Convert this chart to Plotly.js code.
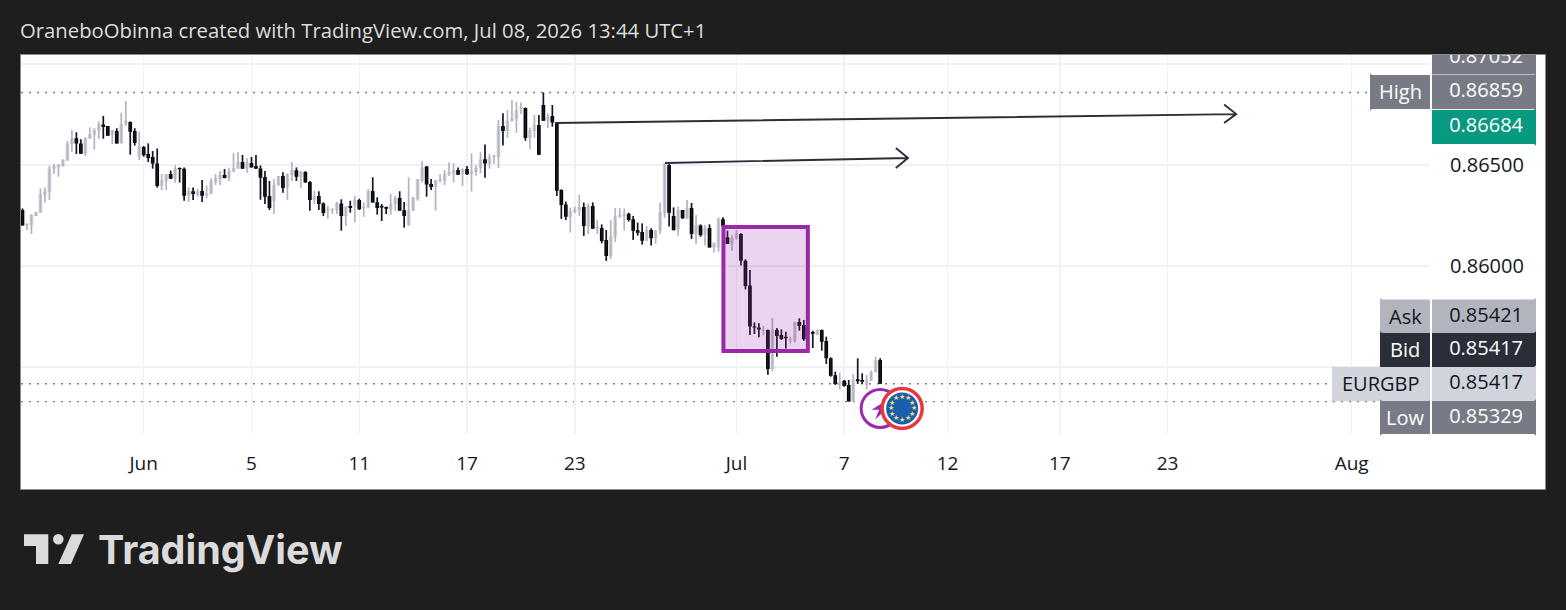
<!DOCTYPE html>
<html>
<head>
<meta charset="utf-8">
<script src="https://cdn.plot.ly/plotly-3.0.1.min.js"></script>
<style>html,body{margin:0;padding:0;background:#1e1e1e;overflow:hidden}#chart{width:1566px;height:610px}</style>
</head>
<body>
<div id="chart"></div>
<script>
const opens = [
0.86277,0.86203,0.86203,0.86248,0.86264,0.86351,0.86365,0.86482,0.86488,0.86492,
0.86521,0.86604,0.86632,0.86607,0.86554,0.86630,0.86650,0.86670,0.86701,0.86693,
0.86649,0.86668,0.86607,0.86706,0.86713,0.86668,0.86540,0.86589,0.86554,0.86540,
0.86508,0.86396,0.86421,0.86455,0.86431,0.86485,0.86482,0.86348,0.86370,0.86351,
0.86371,0.86348,0.86356,0.86414,0.86431,0.86450,0.86437,0.86465,0.86482,0.86515,
0.86482,0.86510,0.86495,0.86483,0.86441,0.86347,0.86323,0.86398,0.86446,0.86388,
0.86449,0.86474,0.86441,0.86465,0.86416,0.86325,0.86347,0.86310,0.86274,0.86277,
0.86276,0.86310,0.86248,0.86297,0.86294,0.86327,0.86287,0.86289,0.86371,0.86315,
0.86297,0.86292,0.86277,0.86307,0.86337,0.86276,0.86200,0.86274,0.86330,0.86422,
0.86492,0.86406,0.86391,0.86422,0.86422,0.86455,0.86452,0.86475,0.86454,0.86480,
0.86455,0.86465,0.86485,0.86528,0.86505,0.86540,0.86540,0.86693,0.86668,0.86716,
0.86728,0.86776,0.86782,0.86634,0.86668,0.86698,0.86797,0.86719,0.86743,0.86706,
0.86376,0.86305,0.86243,0.86267,0.86277,0.86292,0.86198,0.86297,0.86185,0.86188,
0.86129,0.86050,0.86144,0.86244,0.86248,0.86259,0.86231,0.86177,0.86168,0.86125,
0.86178,0.86137,0.86175,0.86261,0.86500,0.86248,0.86183,0.86277,0.86233,0.86287,
0.86158,0.86201,0.86152,0.86188,0.86091,0.86092,0.86231,0.86142,0.86112,0.86132,
0.86158,0.86026,0.85904,0.85701,0.85696,0.85677,0.85683,0.85490,0.85683,0.85658,
0.85650,0.85630,0.85630,0.85723,0.85708,0.85660,0.85673,0.85658,0.85683,0.85629,
0.85543,0.85459,0.85416,0.85432,0.85411,0.85329,0.85439,0.85436,0.85411,0.85432,
0.85474,0.85535];
const highs = [
0.86285,0.86211,0.86256,0.86269,0.86384,0.86389,0.86495,0.86505,0.86505,0.86528,
0.86620,0.86673,0.86662,0.86627,0.86637,0.86686,0.86682,0.86716,0.86743,0.86693,
0.86673,0.86682,0.86759,0.86817,0.86716,0.86682,0.86665,0.86594,0.86607,0.86569,
0.86582,0.86455,0.86455,0.86472,0.86500,0.86488,0.86488,0.86389,0.86389,0.86381,
0.86426,0.86399,0.86434,0.86455,0.86472,0.86480,0.86488,0.86559,0.86564,0.86550,
0.86533,0.86540,0.86550,0.86498,0.86470,0.86421,0.86431,0.86446,0.86464,0.86459,
0.86515,0.86488,0.86472,0.86470,0.86421,0.86373,0.86370,0.86315,0.86297,0.86285,
0.86318,0.86330,0.86297,0.86323,0.86347,0.86333,0.86315,0.86380,0.86439,0.86340,
0.86307,0.86294,0.86356,0.86347,0.86370,0.86317,0.86439,0.86343,0.86431,0.86520,
0.86495,0.86431,0.86426,0.86454,0.86475,0.86513,0.86508,0.86488,0.86483,0.86495,
0.86558,0.86500,0.86563,0.86602,0.86554,0.86550,0.86723,0.86756,0.86772,0.86822,
0.86812,0.86810,0.86785,0.86686,0.86748,0.86748,0.86859,0.86756,0.86797,0.86710,
0.86380,0.86319,0.86289,0.86294,0.86352,0.86314,0.86310,0.86315,0.86228,0.86206,
0.86178,0.86228,0.86287,0.86287,0.86284,0.86264,0.86248,0.86215,0.86211,0.86198,
0.86187,0.86178,0.86314,0.86508,0.86505,0.86290,0.86294,0.86277,0.86327,0.86312,
0.86253,0.86206,0.86203,0.86206,0.86116,0.86241,0.86241,0.86175,0.86153,0.86178,
0.86162,0.86033,0.85980,0.85721,0.85716,0.85703,0.85686,0.85741,0.85693,0.85686,
0.85675,0.85650,0.85724,0.85741,0.85733,0.85680,0.85680,0.85686,0.85686,0.85650,
0.85548,0.85477,0.85472,0.85436,0.85436,0.85464,0.85543,0.85469,0.85460,0.85482,
0.85551,0.85543];
const lows = [
0.86200,0.86178,0.86158,0.86248,0.86264,0.86314,0.86327,0.86455,0.86442,0.86492,
0.86521,0.86566,0.86554,0.86556,0.86545,0.86630,0.86576,0.86630,0.86630,0.86645,
0.86604,0.86606,0.86607,0.86693,0.86551,0.86596,0.86525,0.86541,0.86515,0.86482,
0.86388,0.86376,0.86376,0.86432,0.86413,0.86413,0.86323,0.86317,0.86327,0.86343,
0.86317,0.86335,0.86356,0.86401,0.86401,0.86434,0.86421,0.86465,0.86482,0.86482,
0.86462,0.86488,0.86482,0.86328,0.86307,0.86277,0.86257,0.86398,0.86363,0.86327,
0.86421,0.86421,0.86386,0.86413,0.86274,0.86307,0.86277,0.86248,0.86234,0.86257,
0.86257,0.86175,0.86198,0.86264,0.86215,0.86277,0.86244,0.86285,0.86314,0.86254,
0.86223,0.86257,0.86254,0.86274,0.86274,0.86190,0.86200,0.86274,0.86323,0.86413,
0.86343,0.86376,0.86274,0.86413,0.86401,0.86446,0.86413,0.86450,0.86396,0.86450,
0.86368,0.86447,0.86459,0.86437,0.86482,0.86505,0.86485,0.86596,0.86635,0.86716,
0.86660,0.86752,0.86620,0.86578,0.86635,0.86551,0.86719,0.86683,0.86690,0.86347,
0.86233,0.86228,0.86165,0.86261,0.86248,0.86149,0.86158,0.86185,0.86158,0.86112,
0.86025,0.86035,0.86119,0.86238,0.86175,0.86220,0.86129,0.86150,0.86106,0.86125,
0.86101,0.86109,0.86158,0.86239,0.86195,0.86177,0.86150,0.86233,0.86233,0.86134,
0.86109,0.86145,0.86101,0.86091,0.86066,0.86071,0.86178,0.86109,0.86076,0.86132,
0.86002,0.85884,0.85658,0.85663,0.85647,0.85657,0.85462,0.85479,0.85551,0.85634,
0.85591,0.85617,0.85620,0.85680,0.85630,0.85654,0.85594,0.85658,0.85581,0.85515,
0.85452,0.85411,0.85389,0.85403,0.85329,0.85329,0.85416,0.85416,0.85389,0.85432,
0.85474,0.85417];
const closes = [
0.86200,0.86211,0.86252,0.86267,0.86356,0.86371,0.86480,0.86492,0.86502,0.86526,
0.86604,0.86632,0.86607,0.86556,0.86632,0.86653,0.86673,0.86703,0.86688,0.86645,
0.86673,0.86606,0.86703,0.86719,0.86665,0.86609,0.86591,0.86548,0.86535,0.86508,
0.86396,0.86426,0.86455,0.86432,0.86483,0.86479,0.86348,0.86371,0.86356,0.86370,
0.86348,0.86360,0.86419,0.86436,0.86450,0.86436,0.86470,0.86485,0.86516,0.86482,
0.86512,0.86488,0.86482,0.86437,0.86343,0.86287,0.86401,0.86446,0.86386,0.86455,
0.86475,0.86442,0.86467,0.86413,0.86327,0.86348,0.86307,0.86262,0.86282,0.86285,
0.86312,0.86248,0.86294,0.86287,0.86327,0.86281,0.86297,0.86373,0.86314,0.86287,
0.86289,0.86284,0.86310,0.86338,0.86274,0.86248,0.86277,0.86338,0.86431,0.86488,
0.86403,0.86391,0.86426,0.86431,0.86455,0.86465,0.86475,0.86452,0.86480,0.86454,
0.86469,0.86485,0.86528,0.86507,0.86538,0.86548,0.86693,0.86668,0.86718,0.86733,
0.86772,0.86787,0.86634,0.86673,0.86698,0.86551,0.86719,0.86739,0.86710,0.86373,
0.86302,0.86244,0.86272,0.86281,0.86292,0.86198,0.86299,0.86185,0.86196,0.86124,
0.86050,0.86149,0.86248,0.86253,0.86256,0.86228,0.86175,0.86165,0.86125,0.86178,
0.86137,0.86175,0.86267,0.86508,0.86264,0.86177,0.86277,0.86236,0.86286,0.86158,
0.86203,0.86152,0.86188,0.86091,0.86114,0.86234,0.86195,0.86109,0.86137,0.86162,
0.86026,0.85901,0.85700,0.85695,0.85686,0.85686,0.85490,0.85683,0.85653,0.85639,
0.85642,0.85637,0.85724,0.85703,0.85637,0.85675,0.85665,0.85683,0.85625,0.85543,
0.85457,0.85416,0.85427,0.85406,0.85329,0.85436,0.85429,0.85427,0.85436,0.85477,
0.85535,0.85417];

const dateTickIndex = [27, 51, 75, 99, 123, 159, 183, 206, 231, 255, 296];
const dateTickLabels = ['Jun', '5', '11', '17', '23', 'Jul', '7', '12', '17', '23', 'Aug'];
const gridPrices = [0.855, 0.86, 0.865, 0.87];
const gridPriceLabels = ['', '0.86000', '0.86500', ''];

const highPrice = 0.86859, lastPrice = 0.85417, lowPrice = 0.85329;
const tagValues = ['0.87052', '0.86859', '0.86684', '0.85421', '0.85417', '0.85417', '0.85329'];
const tagNames = ['High', 'Ask', 'Bid', 'EURGBP', 'Low'];

const titleText = 'OraneboObinna created with TradingView.com, Jul 08, 2026 13:44 UTC+1';
const FONT = '"Open Sans", sans-serif';

// page geometry
const L = 21, R = 1536, T = 55, B = 434, SPLIT = 1430;
const YMIN = 0.86 - (B - 266) / 20200, YMAX = 0.86 + (266 - T) / 20200;
const px = v => (v - L) / (R - L);
const py = v => 1 - (v - T) / (B - T);
const priceAt = v => 0.86 + (266 - v) / 20200;

function rounded(x0, x1, y0, y1, rl, rr) {
  const X0 = px(x0), X1 = px(x1), Y0 = py(y0), Y1 = py(y1);
  const dxl = rl / (R - L), dxr = rr / (R - L), dyl = rl / (B - T), dyr = rr / (B - T);
  return `M${X0 + dxl},${Y0} L${X1 - dxr},${Y0} Q${X1},${Y0} ${X1},${Y0 - dyr} L${X1},${Y1 + dyr} Q${X1},${Y1} ${X1 - dxr},${Y1} L${X0 + dxl},${Y1} Q${X0},${Y1} ${X0},${Y1 + dyl} L${X0},${Y0 - dyl} Q${X0},${Y0} ${X0 + dxl},${Y0} Z`;
}
const paperShape = (path, fill, layer) => ({type: 'path', xref: 'paper', yref: 'paper', path, fillcolor: fill, line: {width: 0}, layer: layer || 'below'});

const idx = opens.map((_, i) => i);
const traces = [
  {type: 'ohlc', x: idx, open: opens, high: highs, low: lows, close: closes, tickwidth: 0,
   increasing: {line: {color: '#B2B5BE', width: 1.7}}, decreasing: {line: {color: '#131722', width: 1.7}},
   hoverinfo: 'skip', showlegend: false},
  {type: 'candlestick', x: idx, open: opens, close: closes,
   high: opens.map((o, i) => Math.max(o, closes[i])), low: opens.map((o, i) => Math.min(o, closes[i])),
   increasing: {line: {color: 'rgba(0,0,0,0)', width: 0}, fillcolor: '#D1D4DC'},
   decreasing: {line: {color: 'rgba(0,0,0,0)', width: 0}, fillcolor: '#000000'},
   whiskerwidth: 0, hoverinfo: 'skip', showlegend: false},
  {type: 'scatter', mode: 'text', xaxis: 'x2', yaxis: 'y2', x: tagValues.map(() => 0.52),
   y: [58, 92, 127, 317, 350, 384, 418].map(priceAt), text: tagValues, textposition: 'middle center', cliponaxis: true,
   textfont: {family: FONT, size: 20, color: ['#FFFFFF', '#FFFFFF', '#FFFFFF', '#131722', '#FFFFFF', '#131722', '#FFFFFF']},
   hoverinfo: 'skip', showlegend: false}
];

const dotted = (price) => ({type: 'line', xref: 'paper', yref: 'y', x0: 0, x1: px(SPLIT), y0: price, y1: price,
  line: {color: '#787B86', width: 1.3, dash: '2px,6px'}, layer: 'below'});

const shapes = [
  {type: 'rect', xref: 'paper', yref: 'paper', x0: px(20.5), x1: px(1545.5), y0: py(489.5), y1: py(54.5),
   fillcolor: '#FFFFFF', line: {color: '#8C8C8C', width: 1}, layer: 'below'},
  dotted(highPrice), dotted(lastPrice), dotted(lowPrice),
  // price column tags
  paperShape(rounded(1432, 1536, 74.5, 55, 0, 0), '#787B86'),
  paperShape(rounded(1432, 1536, 109, 75, 0, 3), '#787B86'),
  paperShape(rounded(1432, 1536, 144, 110, 0, 3), '#089981'),
  paperShape(rounded(1432, 1536, 333, 299.5, 0, 3), '#B2B5BE'),
  paperShape(rounded(1432, 1536, 367, 333, 0, 3), '#2A2E39'),
  paperShape(rounded(1432, 1536, 401, 367, 0, 3), '#D1D4DC'),
  paperShape(rounded(1432, 1536, 434, 401, 0, 3), '#787B86'),
  // name tags
  paperShape(rounded(1370, 1430, 109, 75, 3, 0), '#787B86', 'above'),
  paperShape(rounded(1380, 1430, 333, 299.5, 3, 0), '#B2B5BE', 'above'),
  paperShape(rounded(1380, 1430, 367, 333, 3, 0), '#2A2E39', 'above'),
  paperShape(rounded(1332, 1430, 401, 367, 3, 0), '#D1D4DC', 'above'),
  paperShape(rounded(1380, 1430, 434, 401, 3, 0), '#787B86', 'above'),
  // drawings
  {type: 'rect', xref: 'x', yref: 'y', x0: 156.1, x1: 174.9, y0: 0.85579, y1: 0.86193,
   fillcolor: 'rgba(156,39,176,0.2)', line: {color: '#9C27A8', width: 4}, layer: 'above'},
  {type: 'path', xref: 'x', yref: 'y', path: 'M118.6,0.86708 L270.3,0.86752 M267.6,0.86800 L270.3,0.86752 L267.6,0.86708',
   line: {color: '#2A2E39', width: 1.9}, layer: 'above'},
  {type: 'path', xref: 'x', yref: 'y', path: 'M143.1,0.86510 L197.2,0.86535 M194.5,0.86584 L197.2,0.86535 L194.5,0.86485',
   line: {color: '#2A2E39', width: 1.9}, layer: 'above'},
  // badges
  {type: 'circle', xref: 'x', yref: 'y', xsizemode: 'pixel', ysizemode: 'pixel', xanchor: 191, yanchor: 0.85295,
   x0: -19, x1: 19, y0: -19, y1: 19, fillcolor: '#FFFFFF', line: {color: '#9C27B0', width: 3}, layer: 'above'},
  {type: 'path', xref: 'x', yref: 'y', xsizemode: 'pixel', ysizemode: 'pixel', xanchor: 191, yanchor: 0.85295,
   path: 'M6,8 L-8.5,-1.3 L-1,-1.3 L-5,-11 L9,2 L2,2 Z', fillcolor: '#9C27B0', line: {width: 0}, layer: 'above'},
  {type: 'circle', xref: 'x', yref: 'y', xsizemode: 'pixel', ysizemode: 'pixel', xanchor: 195.9, yanchor: 0.85295,
   x0: -20, x1: 20, y0: -20, y1: 20, fillcolor: '#FFFFFF', line: {color: '#E5393F', width: 3.5}, layer: 'above'},
  {type: 'circle', xref: 'x', yref: 'y', xsizemode: 'pixel', ysizemode: 'pixel', xanchor: 195.9, yanchor: 0.85295,
   x0: -16, x1: 16, y0: -16, y1: 16, fillcolor: '#1C5EAD', line: {width: 0}, layer: 'above'},
  // logo
  paperShape(`M${px(24)},${py(534.3)} L${px(48.3)},${py(534.3)} L${px(48.3)},${py(564)} L${px(36)},${py(564)} L${px(36)},${py(546)} L${px(24)},${py(546)} Z`, '#DBDBDB'),
  paperShape(`M${px(71.7)},${py(534.3)} L${px(84)},${py(534.3)} L${px(71)},${py(564)} L${px(58.3)},${py(564)} Z`, '#DBDBDB'),
  {type: 'circle', xref: 'paper', yref: 'paper', x0: px(53), x1: px(63.6), y0: py(544.6), y1: py(534), fillcolor: '#DBDBDB', line: {width: 0}, layer: 'below'}
];

const tagText = (text, cx, cy, color) => ({xref: 'paper', yref: 'paper', x: px(cx), y: py(cy), text, showarrow: false,
  xanchor: 'center', yanchor: 'middle', font: {family: FONT, size: 20, color}});
const annotations = [
  tagText(tagNames[0], 1400, 91, '#FFFFFF'),
  tagText(tagNames[1], 1405, 316, '#131722'),
  tagText(tagNames[2], 1405, 349, '#FFFFFF'),
  tagText(tagNames[3], 1381, 383, '#131722'),
  tagText(tagNames[4], 1405, 417, '#FFFFFF'),
  {xref: 'paper', yref: 'paper', x: px(96), y: py(550), text: 'TradingView', showarrow: false, xanchor: 'left', yanchor: 'middle',
   font: {family: 'Inter, sans-serif', size: 39.5, weight: 700, color: '#DBDBDB'}}
];
for (let k = 0; k < 12; k++) {
  const a = k * Math.PI / 6;
  annotations.push({xref: 'x', yref: 'y', x: 195.9, y: 0.85295, xshift: 11.5 * Math.cos(a), yshift: 11.5 * Math.sin(a),
    text: '★', showarrow: false, xanchor: 'center', yanchor: 'middle', font: {family: 'DejaVu Sans', size: 7, color: '#F3E27C'}});
}

const layout = {
  width: 1566, height: 610,
  margin: {l: L, r: 1566 - R, t: T, b: 610 - B, pad: 0},
  paper_bgcolor: '#1E1E1E', plot_bgcolor: 'rgba(0,0,0,0)',
  showlegend: false, hovermode: false, boxgap: 0.18, boxgroupgap: 0,
  title: {text: titleText, xref: 'container', yref: 'container', x: 20 / 1566, xanchor: 'left', y: 1 - 31 / 610, yanchor: 'middle',
          font: {family: FONT, size: 20.3, color: '#DDDDDD'}},
  xaxis: {domain: [0, px(SPLIT)], range: [-0.33, 313.45], tickmode: 'array', tickvals: dateTickIndex, ticktext: dateTickLabels,
          showgrid: true, gridcolor: '#F0F1F4', gridwidth: 1.5, zeroline: false, showline: false, ticks: '',
          ticklabelstandoff: 16, tickfont: {family: FONT, size: 19, color: '#131722'}, rangeslider: {visible: false}, anchor: 'y'},
  yaxis: {domain: [0, 1], range: [YMIN, YMAX], side: 'right', anchor: 'x', tickmode: 'array', tickvals: gridPrices, ticktext: gridPriceLabels,
          showgrid: true, gridcolor: '#F0F1F4', gridwidth: 1.5, zeroline: false, showline: false, ticks: '',
          ticklabelstandoff: 19, tickfont: {family: FONT, size: 20, color: '#131722'}},
  xaxis2: {domain: [px(1432), 1], range: [0, 1], visible: false, anchor: 'y2'},
  yaxis2: {domain: [0, 1], range: [YMIN, YMAX], visible: false, anchor: 'x2'},
  shapes, annotations
};
Plotly.newPlot('chart', traces, layout, {displayModeBar: false, staticPlot: true});
</script>
</body>
</html>
